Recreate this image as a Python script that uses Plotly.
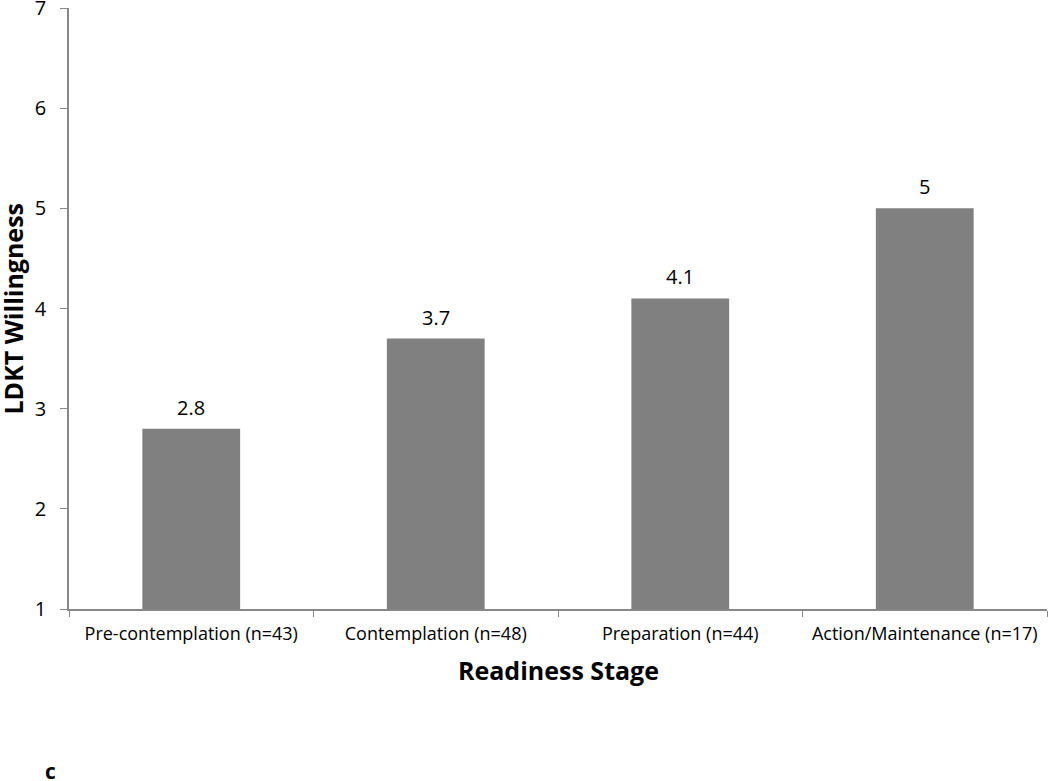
import plotly.graph_objects as go

categories = ["Pre-contemplation (n=43)", "Contemplation (n=48)", "Preparation (n=44)", "Action/Maintenance (n=17)"]
values = [2.8, 3.7, 4.1, 5]
value_labels = ["2.8", "3.7", "4.1", "5"]
y_ticks = [1, 2, 3, 4, 5, 6, 7]

FONT = "Open Sans, Liberation Sans, sans-serif"

fig = go.Figure()
fig.add_trace(go.Bar(
    x=categories, y=[v - 1 for v in values], base=1,
    marker=dict(color="#808080", line=dict(width=0)),
    width=0.4,
    cliponaxis=False,
))

annotations = [
    dict(text=lbl, x=cat, y=val, xref="x", yref="y",
         xanchor="center", yanchor="bottom", yshift=6, showarrow=False,
         font=dict(size=20, family=FONT, color="#000000"))
    for cat, val, lbl in zip(categories, values, value_labels)
]
annotations += [
    dict(text="<b>LDKT Willingness</b>", xref="paper", yref="paper",
         x=0, y=0.5, xshift=-57, xanchor="center", yanchor="middle", textangle=-90,
         showarrow=False, font=dict(size=25, family=FONT, color="#000000")),
    dict(text="<b>Readiness Stage</b>", xref="paper", yref="paper",
         x=0.5, y=0, yshift=-61, xanchor="center", yanchor="middle",
         showarrow=False, font=dict(size=25, family=FONT, color="#000000")),
    dict(text="<b>c</b>", xref="paper", yref="paper",
         x=0, y=0, xshift=-19, yshift=-162, xanchor="center", yanchor="middle",
         showarrow=False, font=dict(size=21, family=FONT, color="#000000")),
]

fig.update_layout(
    width=1050, height=781,
    margin=dict(l=69, r=3, t=8, b=172, autoexpand=False),
    paper_bgcolor="white", plot_bgcolor="white",
    showlegend=False,
    font=dict(family=FONT, color="#000000"),
    xaxis=dict(
        automargin=False,
        showline=True, linecolor="#888888", linewidth=1.5,
        ticks="outside", tickson="boundaries", ticklen=6, tickcolor="#888888",
        tickfont=dict(size=18, family=FONT, color="#000000"),
        ticklabelstandoff=8,
        showgrid=False, zeroline=False,
    ),
    yaxis=dict(
        automargin=False,
        range=[1, 7], tickvals=y_ticks,
        showline=True, linecolor="#888888", linewidth=1.5,
        ticks="outside", ticklen=7, tickcolor="#888888",
        tickfont=dict(size=20, family=FONT, color="#000000"),
        ticklabelstandoff=10, ticklabeloverflow="allow",
        showgrid=False, zeroline=False,
    ),
    annotations=annotations,
)

fig.write_html("out.html", config={"displayModeBar": False},
               post_script="document.body.style.margin='0px';")
